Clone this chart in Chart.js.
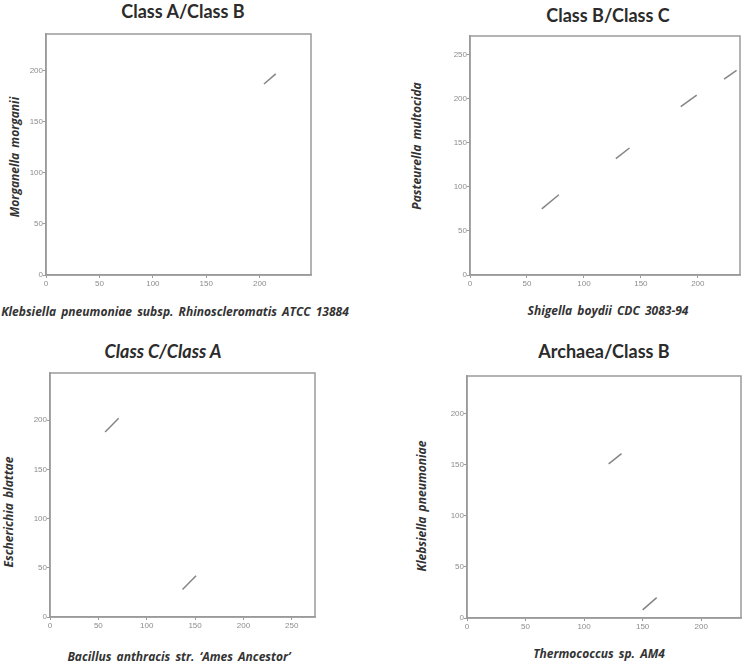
<!DOCTYPE html>
<html>
<head>
<meta charset="utf-8">
<script src="https://cdn.jsdelivr.net/npm/chart.js@4.4.1/dist/chart.umd.min.js"></script>
<style>
  body { margin: 0; background: #fff; }
  #page { position: relative; width: 749px; height: 661px; overflow: hidden; }
  canvas { position: absolute; }
  .lbl { position: absolute; white-space: nowrap; transform: translate(-50%, -50%); color: #333; }
  .ttl { font: bold 18px Lato, sans-serif; color: #2b2b2b; }
  .ax { font: italic bold 12px "Open Sans", sans-serif; word-spacing: 2px; }
  .rot { transform: translate(-50%, -50%) rotate(-90deg); }
</style>
</head>
<body>
<div id="page">
  <canvas id="c1"></canvas>
  <canvas id="c2"></canvas>
  <canvas id="c3"></canvas>
  <canvas id="c4"></canvas>

  <div class="lbl ttl" style="left:183px;top:11px">Class A/Class B</div>
  <div class="lbl ax" style="left:175px;top:311px">Klebsiella pneumoniae subsp. Rhinoscleromatis ATCC 13884</div>
  <div class="lbl ax rot" style="left:14px;top:157px">Morganella morganii</div>

  <div class="lbl ttl" style="left:608px;top:15px">Class B/Class C</div>
  <div class="lbl ax" style="left:608px;top:310px">Shigella boydii CDC 3083-94</div>
  <div class="lbl ax rot" style="left:416px;top:146px">Pasteurella multocida</div>

  <div class="lbl ttl" style="left:163px;top:351px;font-style:italic">Class C/Class A</div>
  <div class="lbl ax" style="left:179px;top:656px">Bacillus anthracis str. ‘Ames Ancestor’</div>
  <div class="lbl ax rot" style="left:8px;top:512px">Escherichia blattae</div>

  <div class="lbl ttl" style="left:604px;top:351px">Archaea/Class B</div>
  <div class="lbl ax" style="left:599px;top:653px">Thermococcus sp. AM4</div>
  <div class="lbl ax rot" style="left:421px;top:506px">Klebsiella pneumoniae</div>
</div>

<script>
// axis ranges
const xMax = [248, 237, 274, 234];
const yMax = [236, 271, 248, 237];

// tick labels shown on each axis
const xTicks = [
  [0, 50, 100, 150, 200],
  [0, 50, 100, 150, 200],
  [0, 50, 100, 150, 200, 250],
  [0, 50, 100, 150, 200]
];
const yTicks = [
  [0, 50, 100, 150, 200],
  [0, 50, 100, 150, 200, 250],
  [0, 50, 100, 150, 200],
  [0, 50, 100, 150, 200]
];

// dot-plot segments: [start, end] in x and in y
const abSegX = [[204, 215]];
const abSegY = [[187, 197]];

const bcSegX = [[63, 78], [128, 140], [185, 199], [223, 234]];
const bcSegY = [[75, 91], [132, 144], [191, 204], [222, 232]];

const caSegX = [[57, 71], [137, 151]];
const caSegY = [[188, 202], [28, 42]];

const arSegX = [[121, 132], [150, 162]];
const arSegY = [[151, 161], [8, 20]];

// frame box of each plot on the page: left, top, right, bottom
const frames = [
  [46, 34, 311, 275],
  [470, 36, 740, 275],
  [50, 373, 315, 617],
  [467, 376, 741, 618]
];

const GRAY = '#9a9a9a';
const Y_W = 22, X_H = 20, PAD_T = 10, PAD_R = 10;

// draws the full box round the plot area
const framePlugin = {
  id: 'frameBox',
  afterDraw(chart) {
    const a = chart.chartArea, ctx = chart.ctx;
    ctx.save();
    ctx.strokeStyle = GRAY;
    ctx.lineWidth = 1.5;
    ctx.strokeRect(a.left, a.top, a.right - a.left, a.bottom - a.top);
    ctx.restore();
  }
};

function axisOpts(max, values, isY) {
  return {
    type: 'linear',
    min: 0,
    max: max,
    ticks: {
      maxRotation: 0,
      padding: isY ? 0 : 1,
      color: '#8c8c8c',
      font: { family: 'Liberation Sans', size: 8 }
    },
    grid: { drawOnChartArea: false, drawTicks: true, tickLength: 3, color: GRAY },
    border: { color: GRAY, width: 1.5 },
    afterBuildTicks(scale) {
      scale.ticks = values.map(v => ({ value: v }));
    },
    afterFit(scale) {
      if (isY) scale.width = Y_W; else scale.height = X_H;
    }
  };
}

function makePanel(id, idx, segX, segY) {
  const [L, T, R, B] = frames[idx];
  const canvas = document.getElementById(id);
  const w = R - L + Y_W + PAD_R, h = B - T + PAD_T + X_H;
  canvas.width = w; canvas.height = h;
  canvas.style.left = (L - Y_W) + 'px';
  canvas.style.top = (T - PAD_T) + 'px';
  canvas.style.width = w + 'px';
  canvas.style.height = h + 'px';

  const datasets = segX.map((xs, i) => ({
    data: [{ x: xs[0], y: segY[i][0] }, { x: xs[1], y: segY[i][1] }],
    showLine: true,
    borderColor: '#858585',
    borderWidth: 1.5,
    pointRadius: 0
  }));

  return new Chart(canvas.getContext('2d'), {
    type: 'scatter',
    data: { datasets },
    options: {
      responsive: false,
      animation: false,
      layout: { padding: { top: PAD_T, right: PAD_R, left: 0, bottom: 0 } },
      plugins: { legend: { display: false }, tooltip: { enabled: false } },
      scales: {
        x: axisOpts(xMax[idx], xTicks[idx], false),
        y: axisOpts(yMax[idx], yTicks[idx], true)
      }
    },
    plugins: [framePlugin]
  });
}

makePanel('c1', 0, abSegX, abSegY);
makePanel('c2', 1, bcSegX, bcSegY);
makePanel('c3', 2, caSegX, caSegY);
makePanel('c4', 3, arSegX, arSegY);
</script>
</body>
</html>
